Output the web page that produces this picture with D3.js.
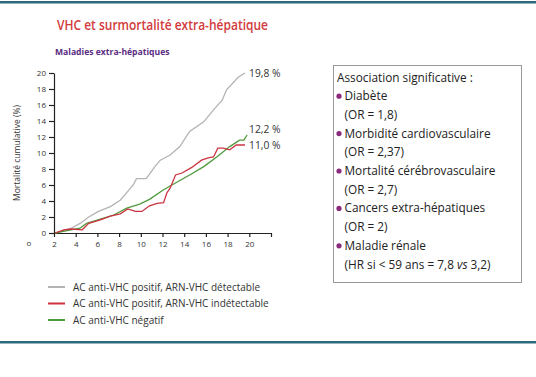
<!DOCTYPE html>
<html><head><meta charset="utf-8">
<script src="https://cdn.jsdelivr.net/npm/d3@7"></script>
<style>body{margin:0;background:#fff}svg{display:block}</style>
</head><body>
<script>
const detectT = [2.1,3.6,4.4,5.2,6.1,7.2,8.1,8.8,9.3,9.6,10.5,11.3,11.8,12.7,13.6,14.5,15.8,16.7,17.5,17.9,19.0,19.6];
const detectV = [0,0.6,1.2,2.0,2.7,3.3,4.1,5.2,6.0,6.8,6.8,8.3,9.1,9.75,10.8,12.7,13.9,15.4,16.6,17.9,19.5,20.0];
const indetT = [2.1,2.9,3.6,4.6,5.2,6.2,7.2,8.1,8.8,9.5,10.1,10.8,11.5,12.1,12.4,12.7,13.2,13.8,14.7,15.6,16.2,16.7,17.1,17.6,18.2,18.8,19.6];
const indetV = [0,0.4,0.5,0.4,1.2,1.6,2.1,2.4,3.0,2.7,2.7,3.4,3.7,3.8,5.0,5.6,7.25,7.5,8.2,9.1,9.4,9.5,10.6,10.6,10.4,11.0,11.0];
const negT = [2.1,3.2,4.4,5.0,6.2,7.5,8.7,9.9,10.8,12.1,13.4,14.5,15.8,17.0,18.2,19.1,19.5,19.8];
const negV = [0,0.3,0.6,1.2,1.7,2.25,3.1,3.6,4.2,5.4,6.4,7.25,8.3,9.5,10.8,11.6,11.6,12.25];
const seriesNames = ["AC anti-VHC positif, ARN-VHC détectable","AC anti-VHC positif, ARN-VHC indétectable","AC anti-VHC négatif"];
const endLabels = ["19,8 %","11,0 %","12,2 %"];
const xTicks = [2,4,6,8,10,12,14,16,18,20,22];
const xTickLabels = ["2","4","6","8","10","12","14","16","18","20",""];
const yTicks = [0,2,4,6,8,10,12,14,16,18,20];
const boxLines = [
  {t:"Association significative :", b:false},
  {t:"Diabète", b:true},{t:"(OR = 1,8)", b:false},
  {t:"Morbidité cardiovasculaire", b:true},{t:"(OR = 2,37)", b:false},
  {t:"Mortalité cérébrovasculaire", b:true},{t:"(OR = 2,7)", b:false},
  {t:"Cancers extra-hépatiques", b:true},{t:"(OR = 2)", b:false},
  {t:"Maladie rénale", b:true},{t:"(HR si < 59 ans = 7,8 vs 3,2)", b:false}
];
const colors = ["#b3b3b3","#cc3340","#4f9a3c"];
const font = "'Open Sans', sans-serif";

const svg = d3.select("body").append("svg").attr("width",536).attr("height",377);
svg.append("rect").attr("width",536).attr("height",377).attr("fill","#fff");
svg.append("rect").attr("x",0).attr("y",1).attr("width",536).attr("height",2.5).attr("fill","#2e6a7e");
svg.append("rect").attr("x",0).attr("y",341).attr("width",536).attr("height",2.5).attr("fill","#2e6a7e");

svg.append("text").attr("x",57).attr("y",30).attr("font-family",font).attr("font-weight",600)
  .attr("font-size",13.5).attr("fill","#d23a3c").attr("textLength",211).attr("lengthAdjust","spacingAndGlyphs")
  .text("VHC et surmortalité extra-hépatique");
svg.append("text").attr("x",55).attr("y",55).attr("font-family",font).attr("font-weight",700)
  .attr("font-size",8.6).attr("fill","#5b2c83").text("Maladies extra-hépatiques");

const x = d3.scaleLinear().domain([2,22]).range([54,271]);
const y = d3.scaleLinear().domain([0,20]).range([233,73]);

const xa = svg.append("g").attr("transform","translate(0,233)")
  .call(d3.axisBottom(x).tickValues(xTicks).tickFormat((d,i)=>xTickLabels[i]).tickSize(4).tickSizeOuter(0).tickPadding(4));
const ya = svg.append("g").attr("transform","translate(54,0)")
  .call(d3.axisLeft(y).tickValues(yTicks).tickSize(5).tickSizeOuter(0).tickPadding(3));
[xa,ya].forEach(a=>{
  a.select(".domain").attr("stroke","#222").attr("stroke-width",1.2);
  a.selectAll(".tick line").attr("stroke","#222").attr("stroke-width",1.2);
  a.selectAll("text").attr("font-family",font).attr("font-size",8).attr("fill","#333");
});
svg.append("text").attr("x",29).attr("y",246).attr("font-family",font).attr("font-size",8)
  .attr("text-anchor","middle").attr("fill","#333").text("o");
svg.append("text").attr("transform","translate(20,153) rotate(-90)").attr("text-anchor","middle")
  .attr("font-family",font).attr("font-size",8.5).attr("fill","#333").text("Mortalité cumulative (%)");

const line = d3.line().x(d=>x(d[0])).y(d=>y(d[1]));
const data = [d3.zip(detectT,detectV), d3.zip(indetT,indetV), d3.zip(negT,negV)];
[0,2,1].forEach(i=>{
  svg.append("path").attr("d",line(data[i])).attr("fill","none").attr("stroke",colors[i]).attr("stroke-width",1.3);
});
const labelY = [73,145,129];
endLabels.forEach((t,i)=>{
  svg.append("text").attr("x",249).attr("y",labelY[i]+4).attr("font-family",font).attr("font-size",10.3)
    .attr("fill","#333").text(t);
});

// legend
seriesNames.forEach((n,i)=>{
  const yy = 287 + i*16.5;
  svg.append("line").attr("x1",48).attr("x2",65).attr("y1",yy).attr("y2",yy).attr("stroke",colors[i]).attr("stroke-width",2);
  svg.append("text").attr("x",73).attr("y",yy+3.5).attr("font-family",font).attr("font-size",10).attr("fill","#333").text(n);
});

// box
svg.append("rect").attr("x",333.5).attr("y",65.5).attr("width",188).attr("height",217).attr("fill","none").attr("stroke","#999").attr("stroke-width",1);
boxLines.forEach((l,i)=>{
  const yy = 77 + i*18.7 + 4.5;
  if(l.b){
    svg.append("circle").attr("cx",339).attr("cy",yy-4).attr("r",2.6).attr("fill","#8a2a7c");
  }
  const tx = svg.append("text").attr("x",i===0?337:344.5).attr("y",yy).attr("font-family",font)
    .attr("font-size",11.8).attr("fill","#222");
  if(l.t.includes(" vs ")){
    const parts = l.t.split(" vs ");
    tx.append("tspan").text(parts[0]+" ");
    tx.append("tspan").attr("font-style","italic").text("vs");
    tx.append("tspan").text(" "+parts[1]);
  } else tx.text(l.t);
});
</script>
</body></html>
